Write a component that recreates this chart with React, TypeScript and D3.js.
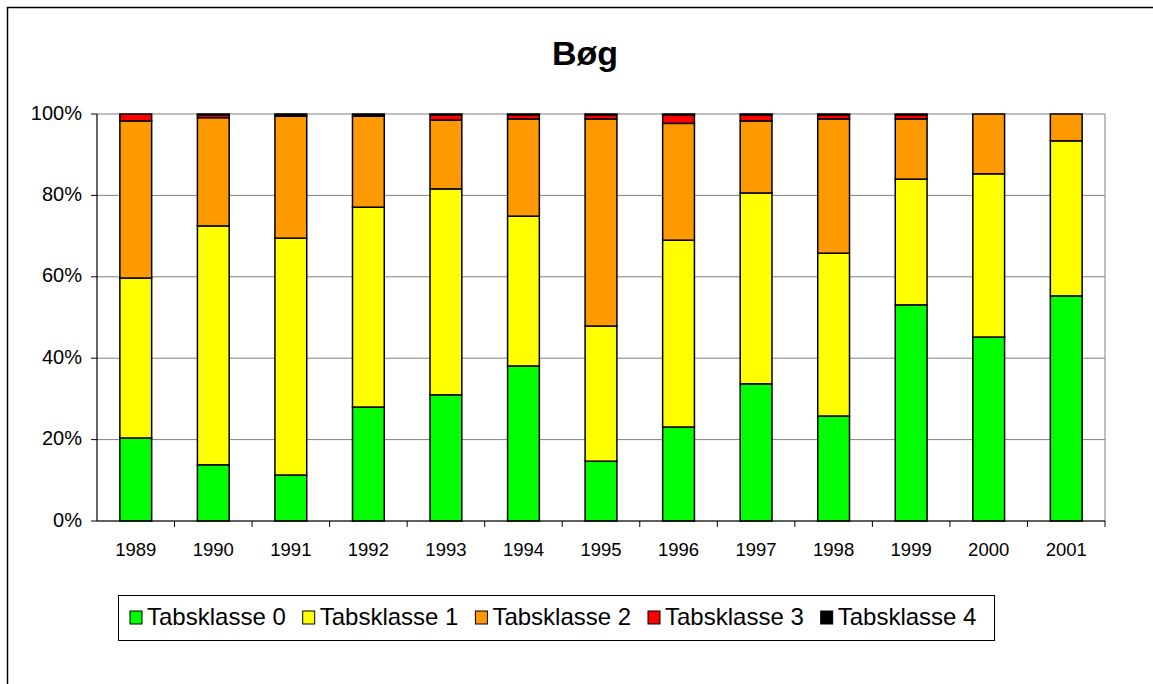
import React from 'react';
import * as d3 from 'd3';

const years = ['1989', '1990', '1991', '1992', '1993', '1994', '1995', '1996', '1997', '1998', '1999', '2000', '2001'];
const seriesNames = ['Tabsklasse 0', 'Tabsklasse 1', 'Tabsklasse 2', 'Tabsklasse 3', 'Tabsklasse 4'];
const seriesColors = ['#00FF00', '#FFFF00', '#FF9900', '#FF0000', '#000000'];

// percentages per class, one value per year
const klasse0 = [20.4, 13.8, 11.3, 28.0, 31.0, 38.1, 14.7, 23.1, 33.7, 25.8, 53.1, 45.2, 55.3];
const klasse1 = [39.3, 58.7, 58.2, 49.1, 50.6, 36.8, 33.2, 45.9, 46.9, 40.0, 30.9, 40.1, 38.1];
const klasse2 = [38.6, 26.6, 30.0, 22.4, 16.9, 23.9, 50.9, 28.7, 17.7, 33.0, 14.8, 14.7, 6.6];
const klasse3 = [1.7, 0.7, 0.0, 0.0, 1.3, 1.0, 1.0, 2.1, 1.5, 1.0, 1.0, 0.0, 0.0];
const klasse4 = [0.0, 0.2, 0.5, 0.5, 0.2, 0.2, 0.2, 0.2, 0.2, 0.2, 0.2, 0.0, 0.0];

const yTicks = [0, 20, 40, 60, 80, 100];

export default function App() {
  const W = 1153;
  const H = 684;
  const plot = { left: 97, right: 1105, top: 114, bottom: 521 };

  const x = d3.scaleBand<string>()
    .domain(years)
    .range([plot.left, plot.right])
    .paddingInner(0.59)
    .paddingOuter(0.295);
  const y = d3.scaleLinear().domain([0, 100]).range([plot.bottom, plot.top]);

  const table = years.map((yr, i) => ({
    year: yr,
    k0: klasse0[i], k1: klasse1[i], k2: klasse2[i], k3: klasse3[i], k4: klasse4[i],
  }));
  const stacked = d3.stack<any>().keys(['k0', 'k1', 'k2', 'k3', 'k4'])(table);

  const step = x.step();
  const font = 'Arial, "Liberation Sans", sans-serif';

  // legend layout
  const legendX = 118.5;
  const legendY = 595;
  const legendItemX = [130, 302.7, 475.4, 648, 820.7];

  return (
    <svg width={W} height={H} style={{ position: 'absolute', left: 0, top: 0 }} fontFamily={font}>
      <rect x={0} y={0} width={W} height={H} fill="#fff" />
      <rect x={7.5} y={7.5} width={W + 20} height={H + 20} fill="none" stroke="#000" strokeWidth={1.5} />

      <text x={585} y={65} textAnchor="middle" fontSize={34} fontWeight="bold">Bøg</text>

      {/* gridlines */}
      {yTicks.map(t => (
        <line key={t} x1={plot.left} x2={plot.right} y1={y(t)} y2={y(t)} stroke="#808080" strokeWidth={1} />
      ))}
      <line x1={plot.right} x2={plot.right} y1={plot.top} y2={plot.bottom} stroke="#808080" strokeWidth={1} />

      {/* bars */}
      {stacked.map((layer, si) => (
        <g key={si}>
          {layer.map((d, i) => {
            const h = y(d[0]) - y(d[1]);
            if (h <= 0) return null;
            return (
              <rect key={i} x={x(years[i])} y={y(d[1])} width={x.bandwidth()} height={h}
                fill={seriesColors[si]} stroke="#000" strokeWidth={1.5} />
            );
          })}
        </g>
      ))}

      {/* axes */}
      <line x1={plot.left} x2={plot.left} y1={plot.top} y2={plot.bottom} stroke="#000" strokeWidth={1.2} />
      <line x1={plot.left} x2={plot.right} y1={plot.bottom} y2={plot.bottom} stroke="#000" strokeWidth={1.2} />
      {yTicks.map(t => (
        <g key={t}>
          <line x1={plot.left - 6} x2={plot.left} y1={y(t)} y2={y(t)} stroke="#000" />
          <text x={plot.left - 15} y={y(t) + 5.5} textAnchor="end" fontSize={20}>{t}%</text>
        </g>
      ))}
      {years.map((yr, i) => (
        <g key={yr}>
          <line x1={plot.left + step * (i + 1)} x2={plot.left + step * (i + 1)} y1={plot.bottom} y2={plot.bottom + 6} stroke="#000" />
          <text x={(x(yr) as number) + x.bandwidth() / 2} y={plot.bottom + 35} textAnchor="middle" fontSize={18.5}>{yr}</text>
        </g>
      ))}

      {/* legend */}
      <rect x={legendX} y={legendY + 0.5} width={876} height={45} fill="#fff" stroke="#000" strokeWidth={1} />
      {seriesNames.map((name, i) => (
        <g key={name}>
          <rect x={legendItemX[i]} y={legendY + 16} width={12} height={13} fill={seriesColors[i]} stroke="#000" strokeWidth={1} />
          <text x={legendItemX[i] + 17} y={legendY + 29.5} fontSize={24}>{name}</text>
        </g>
      ))}
    </svg>
  );
}
